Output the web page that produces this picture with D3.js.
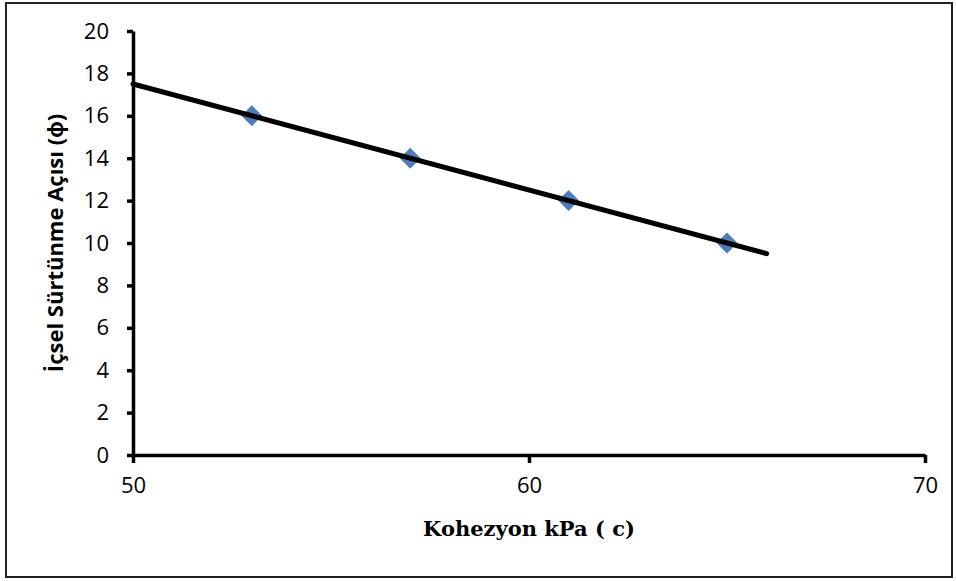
<!DOCTYPE html>
<meta charset="utf-8">
<html lang="tr">
<style>
body { margin: 0; background: #fff; }
.tick text { font: 22px "Open Sans", sans-serif; fill: #000; }
.axis path, .axis line { stroke: #000; stroke-width: 3.5px; }
.trend { fill: none; stroke: #000; stroke-width: 5px; stroke-linecap: round; }
.point { fill: #4a7ebb; }
.ytitle { font: bold 22px "Open Sans", sans-serif; }
.xtitle { font: bold 21px "DejaVu Serif", serif; }
</style>
<body>
<svg id="chart" width="956" height="581"></svg>
<script src="https://cdn.jsdelivr.net/npm/d3@7"></script>
<script>
// data
var kohezyon = [53, 57, 61, 65],
    aci = [16, 14, 12, 10],
    trendX = [50, 66],
    trendY = [17.5, 9.5],
    xTicks = [50, 60, 70],
    yTicks = [0, 2, 4, 6, 8, 10, 12, 14, 16, 18, 20];

var svg = d3.select("#chart");

// outer frame
svg.append("rect")
    .attr("x", 6).attr("y", 3)
    .attr("width", 946).attr("height", 574)
    .attr("fill", "none")
    .attr("stroke", "#222")
    .attr("stroke-width", 2);

var x = d3.scaleLinear().domain([50, 70]).range([133, 925]);
var y = d3.scaleLinear().domain([0, 20]).range([455, 31]);

var xAxis = svg.append("g")
    .attr("class", "axis")
    .attr("transform", "translate(0," + y(0) + ")")
    .call(d3.axisBottom(x).tickValues(xTicks).tickSize(8).tickSizeOuter(0).tickPadding(14));

var yAxis = svg.append("g")
    .attr("class", "axis")
    .attr("transform", "translate(" + x(50) + ",0)")
    .call(d3.axisLeft(y).tickValues(yTicks).tickSize(6).tickSizeOuter(0).tickPadding(18));

// diamond markers
var diamond = d3.symbol().type(d3.symbolDiamond2).size(280);
svg.selectAll(".point")
    .data(d3.zip(kohezyon, aci))
    .enter().append("path")
    .attr("class", "point")
    .attr("transform", function(d) { return "translate(" + x(d[0]) + "," + y(d[1]) + ")"; })
    .attr("d", diamond);

// trendline drawn over the markers
var line = d3.line()
    .x(function(d) { return x(d[0]); })
    .y(function(d) { return y(d[1]); });

svg.append("path")
    .datum(d3.zip(trendX, trendY))
    .attr("class", "trend")
    .attr("d", line);

svg.append("text")
    .attr("class", "ytitle")
    .attr("text-anchor", "middle")
    .attr("transform", "translate(63,243) rotate(-90)")
    .text("İçsel Sürtünme Açısı (ϕ)");

svg.append("text")
    .attr("class", "xtitle")
    .attr("text-anchor", "middle")
    .attr("x", (x(50) + x(70)) / 2)
    .attr("y", 536)
    .text("Kohezyon kPa ( c)");
</script>
</body>
</html>
